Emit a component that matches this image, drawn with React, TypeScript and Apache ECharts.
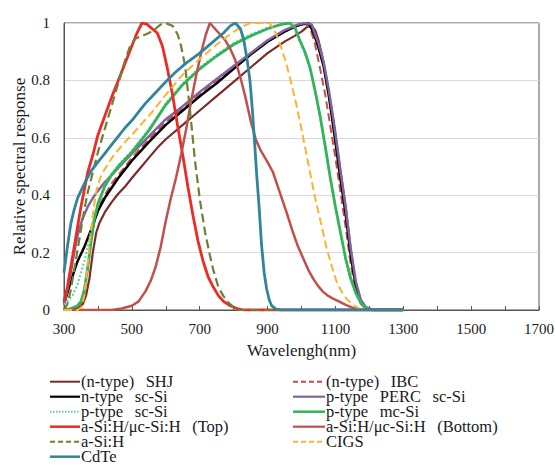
import React, { useEffect, useRef } from "react";
import * as echarts from "echarts";

type Pt = [number, number];

// wavelength (nm), relative spectral response
const shjNType: Pt[] = [[300,0],[320,0.003],[340,0.006],[355,0.02],[365,0.05],[375,0.11],[385,0.2],[395,0.27],[405,0.305],[420,0.34],[440,0.375],[460,0.405],[480,0.43],[500,0.46],[525,0.495],[550,0.53],[575,0.565],[600,0.595],[650,0.645],[700,0.695],[750,0.745],[800,0.795],[850,0.845],[900,0.895],[950,0.935],[980,0.955],[1000,0.97],[1015,0.985],[1030,0.99],[1040,0.975],[1050,0.94],[1060,0.89],[1070,0.83],[1080,0.76],[1090,0.69],[1100,0.61],[1115,0.48],[1130,0.36],[1145,0.21],[1160,0.09],[1175,0.03],[1190,0.008],[1210,0],[1300,0]];
const ibcNType: Pt[] = [[300,0],[330,0.005],[350,0.02],[360,0.06],[370,0.14],[380,0.24],[390,0.31],[400,0.355],[420,0.4],[440,0.44],[460,0.47],[480,0.5],[500,0.53],[550,0.595],[600,0.655],[650,0.705],[700,0.755],[750,0.8],[800,0.845],[850,0.89],[900,0.935],[950,0.97],[990,0.99],[1005,1.0],[1020,0.99],[1030,0.965],[1040,0.925],[1055,0.84],[1070,0.75],[1085,0.64],[1100,0.53],[1115,0.41],[1130,0.29],[1145,0.16],[1160,0.065],[1175,0.02],[1190,0.005],[1210,0],[1300,0]];
const nScSi: Pt[] = [[300,0.02],[310,0.06],[320,0.1],[340,0.17],[360,0.22],[380,0.28],[400,0.345],[420,0.39],[440,0.425],[460,0.46],[480,0.49],[500,0.52],[550,0.585],[600,0.645],[650,0.695],[700,0.745],[750,0.79],[800,0.84],[850,0.89],[900,0.935],[950,0.97],[985,0.99],[1000,0.995],[1020,1.0],[1030,0.98],[1040,0.95],[1050,0.915],[1065,0.85],[1080,0.75],[1090,0.67],[1100,0.585],[1115,0.455],[1130,0.335],[1145,0.19],[1160,0.085],[1175,0.03],[1190,0.008],[1210,0],[1300,0]];
const pPercScSi: Pt[] = [[300,0.02],[310,0.07],[320,0.13],[330,0.2],[340,0.26],[355,0.32],[370,0.36],[385,0.39],[400,0.415],[420,0.445],[440,0.47],[460,0.495],[480,0.52],[500,0.545],[550,0.605],[600,0.665],[650,0.71],[700,0.76],[750,0.805],[800,0.85],[850,0.895],[900,0.94],[950,0.975],[990,0.995],[1010,1.0],[1030,0.995],[1040,0.96],[1050,0.93],[1065,0.865],[1080,0.77],[1090,0.695],[1100,0.615],[1115,0.485],[1130,0.36],[1145,0.215],[1160,0.1],[1175,0.035],[1190,0.01],[1210,0],[1300,0]];
const pScSi: Pt[] = [[300,0.02],[310,0.03],[325,0.05],[340,0.09],[350,0.13],[360,0.17],[370,0.22],[380,0.28],[390,0.33],[400,0.375],[420,0.435],[440,0.475],[460,0.505],[480,0.53],[500,0.555],[550,0.63],[600,0.72],[650,0.79],[700,0.845],[750,0.89],[800,0.93],[850,0.96],[900,0.983],[945,0.997],[965,1.0],[980,0.98],[995,0.935],[1010,0.895],[1025,0.84],[1040,0.76],[1055,0.67],[1070,0.565],[1085,0.455],[1100,0.355],[1115,0.265],[1130,0.175],[1145,0.105],[1160,0.055],[1175,0.022],[1190,0.006],[1210,0],[1300,0]];
const pMcSi: Pt[] = [[300,0],[320,0.005],[340,0.015],[350,0.03],[360,0.07],[370,0.15],[380,0.24],[390,0.32],[400,0.37],[420,0.43],[440,0.47],[460,0.5],[480,0.525],[500,0.55],[550,0.625],[600,0.715],[650,0.785],[700,0.84],[750,0.885],[800,0.925],[850,0.955],[900,0.98],[940,0.995],[965,1.0],[980,0.985],[995,0.94],[1010,0.9],[1025,0.845],[1040,0.765],[1055,0.675],[1070,0.57],[1085,0.46],[1100,0.36],[1115,0.27],[1130,0.18],[1145,0.11],[1160,0.06],[1175,0.025],[1190,0.008],[1210,0],[1300,0]];
const tandemTop: Pt[] = [[300,0.03],[310,0.08],[320,0.15],[330,0.22],[340,0.29],[350,0.36],[360,0.42],[370,0.48],[385,0.54],[400,0.61],[420,0.675],[440,0.74],[460,0.8],[480,0.86],[500,0.92],[515,0.965],[530,1.0],[545,0.995],[560,0.98],[575,0.965],[590,0.92],[605,0.84],[620,0.75],[635,0.64],[650,0.54],[665,0.43],[680,0.33],[695,0.24],[710,0.17],[725,0.115],[740,0.08],[755,0.05],[770,0.03],[790,0.015],[810,0.005],[830,0],[1300,0]];
const tandemBottom: Pt[] = [[300,0],[440,0],[470,0.005],[500,0.015],[520,0.03],[540,0.065],[555,0.1],[570,0.15],[585,0.22],[600,0.31],[615,0.39],[630,0.46],[645,0.54],[660,0.63],[675,0.73],[690,0.82],[705,0.9],[718,0.96],[730,1.0],[745,0.98],[760,0.96],[775,0.94],[790,0.91],[805,0.87],[820,0.81],[835,0.74],[850,0.66],[865,0.595],[880,0.555],[900,0.515],[916,0.48],[936,0.41],[956,0.34],[975,0.27],[990,0.22],[1005,0.18],[1020,0.14],[1034,0.11],[1048,0.085],[1063,0.064],[1080,0.048],[1093,0.04],[1110,0.03],[1132,0.017],[1150,0.008],[1165,0.003],[1185,0],[1300,0]];
const aSiH: Pt[] = [[300,0],[310,0.02],[320,0.07],[330,0.14],[340,0.21],[350,0.28],[360,0.35],[370,0.41],[385,0.48],[400,0.55],[420,0.63],[440,0.71],[460,0.79],[480,0.87],[495,0.92],[510,0.945],[530,0.955],[550,0.965],[570,0.98],[585,0.995],[600,1.0],[620,0.99],[635,0.96],[645,0.92],[657,0.85],[671,0.7],[686,0.52],[701,0.38],[716,0.27],[730,0.19],[740,0.14],[755,0.08],[769,0.05],[785,0.025],[800,0.01],[815,0],[1300,0]];
const cigs: Pt[] = [[300,0],[340,0],[352,0.01],[360,0.05],[368,0.14],[378,0.26],[388,0.36],[398,0.43],[410,0.47],[430,0.51],[450,0.545],[480,0.585],[500,0.61],[530,0.65],[560,0.69],[600,0.75],[650,0.82],[700,0.875],[750,0.925],[800,0.97],[830,0.99],[850,1.0],[905,1.0],[915,0.985],[926,0.96],[940,0.915],[956,0.855],[970,0.79],[985,0.715],[1000,0.63],[1015,0.54],[1030,0.45],[1044,0.37],[1060,0.29],[1074,0.215],[1090,0.15],[1103,0.1],[1120,0.06],[1132,0.04],[1150,0.02],[1165,0.008],[1180,0],[1300,0]];
const cdte: Pt[] = [[300,0.13],[310,0.22],[320,0.3],[330,0.35],[340,0.39],[360,0.44],[380,0.485],[400,0.515],[420,0.545],[440,0.575],[460,0.605],[480,0.635],[500,0.66],[520,0.69],[540,0.72],[560,0.745],[580,0.77],[600,0.795],[630,0.83],[660,0.86],[700,0.895],[740,0.935],[770,0.965],[790,0.99],[805,1.0],[820,0.98],[830,0.94],[840,0.87],[848,0.8],[855,0.7],[862,0.58],[868,0.47],[875,0.36],[882,0.23],[890,0.13],[897,0.075],[905,0.035],[912,0.015],[925,0.003],[940,0],[1300,0]];

const seriesNames = [
  "(n-type) SHJ",
  "(n-type) IBC",
  "n-type sc-Si",
  "p-type PERC sc-Si",
  "p-type sc-Si",
  "p-type mc-Si",
  "a-Si:H/μc-Si:H (Top)",
  "a-Si:H/μc-Si:H (Bottom)",
  "a-Si:H",
  "CIGS",
  "CdTe",
];
const seriesData = [shjNType, ibcNType, nScSi, pPercScSi, pScSi, pMcSi, tandemTop, tandemBottom, aSiH, cigs, cdte];
const seriesColors = ["#7a2c2a", "#c0504d", "#000000", "#8064a2", "#5fd39a", "#33b35a", "#ee2a24", "#c0504d", "#6e7f36", "#fbb431", "#31849b"];
const seriesDash = ["solid", "dashed", "solid", "solid", "dotted", "solid", "solid", "solid", "dashed", "dashed", "solid"];
const seriesWidth = [2.2, 2, 2.5, 2.5, 2, 2.8, 2.8, 2.5, 2.2, 2, 2.8];

const leftLegend = ["(n-type) SHJ", "n-type sc-Si", "p-type sc-Si", "a-Si:H/μc-Si:H (Top)", "a-Si:H", "CdTe"];
const rightLegend = ["(n-type) IBC", "p-type PERC sc-Si", "p-type mc-Si", "a-Si:H/μc-Si:H (Bottom)", "CIGS"];

const xTickLabels = [300, 500, 700, 900, 1100, 1300, 1500, 1700];
const yTickValues = [0, 0.2, 0.4, 0.6, 0.8, 1];
const yTickLabels = ["0", "0.2", "0.4", "0.6", "0.8", "1"];
const xName = "Wavelengh(nm)";
const yName = "Relative spectral response";

const FAM = "Times New Roman";
const INK = "#1a1a1a";

export default function App() {
  const ref = useRef<HTMLDivElement>(null);
  useEffect(() => {
    if (!ref.current) return;
    const chart = echarts.init(ref.current, undefined, { renderer: "svg" });
    chart.setOption({
      animation: false,
      backgroundColor: "#ffffff",
      grid: { left: 64, right: 16, top: 23, bottom: 156, show: true, borderColor: "#555555", borderWidth: 1, backgroundColor: "transparent" },
      xAxis: {
        type: "value",
        min: 300,
        max: 1700,
        interval: 100,
        axisLine: { show: true, lineStyle: { color: "#555555", width: 1 } },
        axisTick: { show: true, inside: true, length: 4, lineStyle: { color: "#555555" } },
        splitLine: { show: false },
        axisLabel: { show: false },
      },
      yAxis: {
        type: "value",
        min: 0,
        max: 1,
        interval: 0.2,
        axisLine: { show: true, lineStyle: { color: "#555555", width: 1 } },
        axisTick: { show: false },
        splitLine: { show: true, lineStyle: { color: "#d9d9d9", width: 1 } },
        axisLabel: { show: false },
      },
      series: seriesNames.map((name, i) => ({
        name,
        type: "line",
        data: seriesData[i],
        symbol: "none",
        showSymbol: false,
        color: seriesColors[i],
        lineStyle: { color: seriesColors[i], width: seriesWidth[i], type: seriesDash[i] },
        z: 2 + i,
      })),
    });

    const g: any[] = [];
    xTickLabels.forEach((v) => {
      const p = chart.convertToPixel({ gridIndex: 0 }, [v, 0]) as number[];
      g.push({ type: "text", x: p[0], y: p[1] + 19, silent: true, style: { text: String(v), fontFamily: FAM, fontSize: 15, fill: INK, align: "center", verticalAlign: "middle" } });
    });
    yTickValues.forEach((v, i) => {
      const p = chart.convertToPixel({ gridIndex: 0 }, [300, v]) as number[];
      g.push({ type: "text", x: p[0] - 14, y: p[1], silent: true, style: { text: yTickLabels[i], fontFamily: FAM, fontSize: 15, fill: INK, align: "right", verticalAlign: "middle" } });
    });
    const c0 = chart.convertToPixel({ gridIndex: 0 }, [300, 0]) as number[];
    const c1 = chart.convertToPixel({ gridIndex: 0 }, [1700, 1]) as number[];
    g.push({ type: "text", x: (c0[0] + c1[0]) / 2, y: c0[1] + 40, silent: true, style: { text: xName, fontFamily: FAM, fontSize: 17, fill: INK, align: "center", verticalAlign: "middle" } });
    g.push({ type: "text", x: 19, y: (c0[1] + c1[1]) / 2, rotation: Math.PI / 2, silent: true, style: { text: yName, fontFamily: FAM, fontSize: 17, fill: INK, align: "center", verticalAlign: "middle" } });

    const dashFor = (t: string) => (t === "dashed" ? [5, 3] : t === "dotted" ? [1.5, 1.5] : null);
    const addLegend = (names: string[], x0: number, w: number) => {
      names.forEach((n, r) => {
        const i = seriesNames.indexOf(n);
        const y = 381.7 + r * 15;
        g.push({ type: "line", silent: true, shape: { x1: x0, y1: y, x2: x0 + w, y2: y }, style: { stroke: seriesColors[i], lineWidth: Math.max(2, seriesWidth[i] - 0.3), lineDash: dashFor(seriesDash[i]) } });
        g.push({ type: "text", x: x0 + w + 1, y: y, silent: true, style: { text: n.replace(/ /g, "\u2002\u2009"), fontFamily: FAM, fontSize: 16.5, fill: INK, align: "left", verticalAlign: "middle" } });
      });
    };
    addLegend(leftLegend, 50, 30);
    addLegend(rightLegend, 293, 32);
    chart.setOption({ graphic: g });

    return () => chart.dispose();
  }, []);
  return <div ref={ref} style={{ position: "fixed", left: 0, top: 0, width: 555, height: 466 }} />;
}
